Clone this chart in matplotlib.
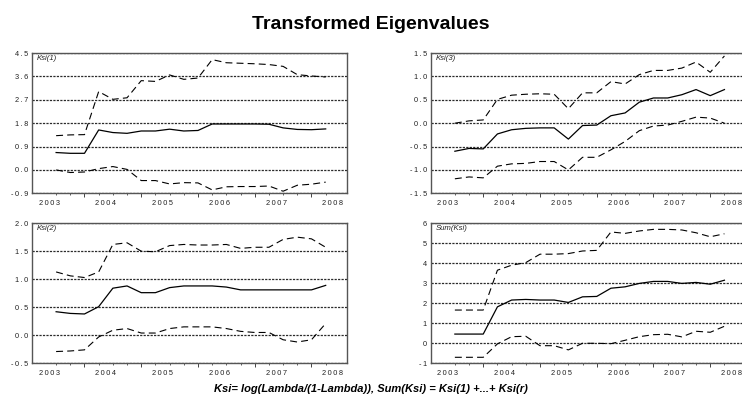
import matplotlib.pyplot as plt

plt.rcParams['font.family'] = ['Liberation Sans', 'DejaVu Sans']
plt.rcParams['lines.scale_dashes'] = False

# quarterly observations, 2003Q3 .. 2008Q2
quarters = ['2003Q3', '2003Q4',
            '2004Q1', '2004Q2', '2004Q3', '2004Q4',
            '2005Q1', '2005Q2', '2005Q3', '2005Q4',
            '2006Q1', '2006Q2', '2006Q3', '2006Q4',
            '2007Q1', '2007Q2', '2007Q3', '2007Q4',
            '2008Q1', '2008Q2']
years = ['2003', '2004', '2005', '2006', '2007', '2008']

ksi1 = [0.67, 0.64, 0.64, 1.54, 1.44, 1.41, 1.50, 1.50, 1.57, 1.50,
        1.52, 1.77, 1.77, 1.77, 1.77, 1.76, 1.62, 1.56, 1.55, 1.58]
ksi1_hi = [1.32, 1.35, 1.36, 3.02, 2.72, 2.78, 3.44, 3.41, 3.66, 3.49,
           3.54, 4.25, 4.13, 4.11, 4.09, 4.06, 3.99, 3.67, 3.62, 3.58]
ksi1_lo = [0.00, -0.10, -0.08, 0.05, 0.13, 0.02, -0.41, -0.41, -0.54, -0.49,
           -0.50, -0.77, -0.65, -0.64, -0.64, -0.62, -0.82, -0.59, -0.55, -0.47]

ksi3 = [-0.60, -0.54, -0.55, -0.23, -0.14, -0.11, -0.10, -0.10, -0.34, -0.05,
        -0.04, 0.16, 0.22, 0.45, 0.54, 0.54, 0.61, 0.72, 0.59, 0.72]
ksi3_hi = [0.00, 0.05, 0.07, 0.51, 0.60, 0.62, 0.63, 0.62, 0.31, 0.65,
           0.65, 0.89, 0.84, 1.04, 1.13, 1.13, 1.18, 1.31, 1.09, 1.44]
ksi3_lo = [-1.19, -1.15, -1.17, -0.92, -0.87, -0.86, -0.82, -0.82, -1.00, -0.73,
           -0.73, -0.57, -0.39, -0.16, -0.06, -0.04, 0.04, 0.13, 0.11, 0.00]

ksi2 = [0.42, 0.39, 0.38, 0.51, 0.84, 0.88, 0.76, 0.76, 0.85, 0.88,
        0.88, 0.88, 0.86, 0.81, 0.81, 0.81, 0.81, 0.81, 0.81, 0.89]
ksi2_hi = [1.13, 1.06, 1.03, 1.13, 1.62, 1.65, 1.50, 1.49, 1.60, 1.62,
           1.61, 1.61, 1.62, 1.55, 1.57, 1.57, 1.71, 1.75, 1.72, 1.57]
ksi2_lo = [-0.29, -0.28, -0.26, -0.03, 0.09, 0.12, 0.04, 0.04, 0.12, 0.15,
           0.15, 0.15, 0.12, 0.07, 0.05, 0.05, -0.08, -0.12, -0.08, 0.21]

ksum = [0.46, 0.46, 0.46, 1.82, 2.16, 2.19, 2.16, 2.16, 2.04, 2.32,
        2.34, 2.75, 2.82, 2.99, 3.09, 3.09, 2.99, 3.04, 2.95, 3.15]
ksum_hi = [1.66, 1.66, 1.66, 3.65, 3.90, 4.03, 4.45, 4.45, 4.48, 4.61,
           4.64, 5.56, 5.49, 5.61, 5.69, 5.69, 5.66, 5.52, 5.32, 5.47]
ksum_lo = [-0.70, -0.70, -0.70, -0.03, 0.33, 0.35, -0.12, -0.12, -0.33, 0.00,
           0.00, -0.02, 0.15, 0.33, 0.43, 0.45, 0.32, 0.60, 0.55, 0.85]

ticks1 = [-0.9, 0.0, 0.9, 1.8, 2.7, 3.6, 4.5]
ticks3 = [-1.5, -1.0, -0.5, 0.0, 0.5, 1.0, 1.5]
ticks2 = [-0.5, 0.0, 0.5, 1.0, 1.5, 2.0]
ticks_sum = [-1, 0, 1, 2, 3, 4, 5, 6]

x = [int(q[:4]) + (int(q[5]) - 1) / 4 for q in quarters]


def spaced(s):
    return '\u2009'.join(s)


def panel(fig, rect, name, mid, lo, hi, yticks, fmt):
    ax = fig.add_axes(rect)
    ax.set_axisbelow(True)
    ax.plot(x, hi, color='black', lw=0.8, dashes=(5, 3))
    ax.plot(x, mid, color='black', lw=0.9)
    ax.plot(x, lo, color='black', lw=0.8, dashes=(5, 3))

    ax.set_xlim(2003.08, 2008.625)
    ax.set_ylim(yticks[0], yticks[-1])
    ax.set_yticks(yticks, [spaced(fmt.format(v)) for v in yticks])
    ax.grid(axis='y', color='#2a2a2a', lw=0.9, linestyle=(0, (1.6, 0.9)))
    ax.tick_params(axis='y', length=0, pad=3, labelsize=5.3, labelcolor='#222222')

    # year boundaries get long ticks, quarters short ones
    ax.set_xticks([int(y) for y in years[1:]], [])
    ax.set_xticks(x, minor=True)
    ax.tick_params(axis='x', which='major', length=3.2, width=0.7, color='#444444')
    ax.tick_params(axis='x', which='minor', length=1.7, width=0.6, color='#444444')

    # year labels centred between boundaries
    sec = ax.secondary_xaxis('bottom')
    sec.set_xticks([int(y) + 0.375 for y in years], [spaced(y) for y in years])
    sec.tick_params(length=0, pad=4.6, labelsize=5.3, labelcolor='#222222')
    sec.spines['bottom'].set_visible(False)

    for sp in ax.spines.values():
        sp.set_color('#555555')
        sp.set_linewidth(1.0)

    ax.text(0.014, 0.985, name, transform=ax.transAxes, ha='left', va='top',
            fontsize=5.6, style='italic', color='#222222')
    return ax


fig = plt.figure(figsize=(7.42, 4.01), dpi=100)

w, h = 0.4241, 0.3495
panel(fig, [0.0435, 0.518, w, h], 'Ksi(1)', ksi1, ksi1_lo, ksi1_hi, ticks1, '{:.1f}')
panel(fig, [0.5809, 0.518, w, h], 'Ksi(3)', ksi3, ksi3_lo, ksi3_hi, ticks3, '{:.1f}')
panel(fig, [0.0435, 0.094, w, h], 'Ksi(2)', ksi2, ksi2_lo, ksi2_hi, ticks2, '{:.1f}')
panel(fig, [0.5809, 0.094, w, h], 'Sum(Ksi)', ksum, ksum_lo, ksum_hi, ticks_sum, '{:d}')

fig.text(0.5, 0.94, 'Transformed Eigenvalues', ha='center', va='center',
         fontsize=14, fontweight='bold')
fig.text(0.5, 0.03, 'Ksi= log(Lambda/(1-Lambda)), Sum(Ksi) = Ksi(1) +...+ Ksi(r)',
         ha='center', va='center', fontsize=8, fontweight='bold', style='italic')

fig.savefig('out.png', dpi=100, facecolor='white')
